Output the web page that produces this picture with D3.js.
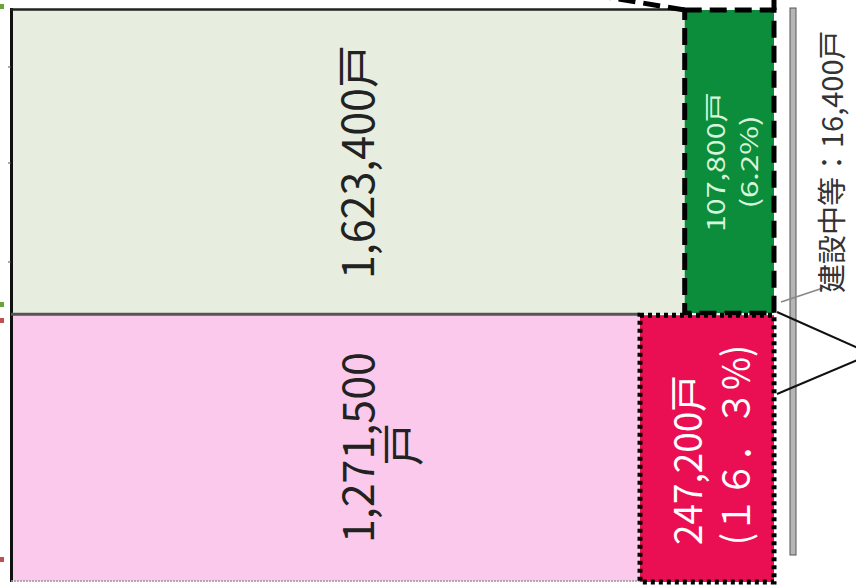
<!DOCTYPE html>
<html><head><meta charset="utf-8">
<script src="https://cdn.jsdelivr.net/npm/d3@7"></script>
<style>html,body{margin:0;padding:0;background:#fff;overflow:hidden}</style>
</head><body>
<script>
// ---- data ----
const categories = ["グループ1", "グループ2"];
const mainValues = [1623400, 1271500];
const subValues = [107800, 247200];
const subShares = [6.2, 16.3];
const underConstruction = 16400;
const underConstructionLabel = "建設中等：";
const mainLabelLines = [["1,623,400戸"], ["1,271,500", "戸"]];
const subShareText = ["(6.2%)", "(１６．３%)"];

const mainFills = ["#e8eedf", "#fbc9ec"];
const subFills = ["#0b8d3c", "#ea0f52"];
const subText = ["#d6f5da", "#ffffff"];

const W = 856, H = 585;
const svg = d3.select("body").append("svg").attr("width", W).attr("height", H)
  .style("font-family", "'Noto Sans CJK JP','Noto Sans',sans-serif");

const totals = mainValues.map((v, i) => v + subValues[i]);
const grand = d3.sum(totals);
const y = d3.scaleLinear().domain([0, grand]).range([10, 581]);
const w = d3.scalePow().exponent(0.42).domain([0, d3.max(subShares)]).range([0, 134]);
const xLeft = 12, xRight = 774;
const fmt = d3.format(",");

let cum = 0;
const rows = categories.map((c, i) => {
  const r = { i, y0: y(cum), y1: y(cum + totals[i]) };
  cum += totals[i];
  r.subX = xRight - w(subShares[i]);
  return r;
});

// main rects
svg.selectAll("rect.main").data(rows).join("rect").attr("class", "main")
  .attr("x", xLeft).attr("y", d => d.y0)
  .attr("width", d => d.subX - xLeft).attr("height", d => d.y1 - d.y0)
  .attr("fill", d => mainFills[d.i]);

// frame lines
svg.append("line").attr("x1", 11.5).attr("x2", 11.5).attr("y1", 8).attr("y2", 582)
  .attr("stroke", "#111").attr("stroke-width", 3);
svg.append("line").attr("x1", 11).attr("x2", rows[0].subX).attr("y1", 9.5).attr("y2", 9.5)
  .attr("stroke", "#222").attr("stroke-width", 2.5);
svg.append("line").attr("x1", 11).attr("x2", rows[1].subX).attr("y1", rows[0].y1).attr("y2", rows[0].y1)
  .attr("stroke", "#555").attr("stroke-width", 3);
svg.append("line").attr("x1", 11).attr("x2", rows[1].subX).attr("y1", 581).attr("y2", 581)
  .attr("stroke", "#999").attr("stroke-width", 1.5).attr("stroke-dasharray", "2,1");

// small ticks on left
[67, 163, 262].forEach(t => svg.append("line").attr("x1", 8).attr("x2", 11).attr("y1", t).attr("y2", t)
  .attr("stroke", "#555").attr("stroke-width", 1));
// legend remnants
[[4, "#6aa33a"], [302, "#6aa33a"], [318, "#c0504d"], [557, "#c0504d"]].forEach(([yy, c]) =>
  svg.append("rect").attr("x", 0).attr("y", yy).attr("width", 4).attr("height", 5).attr("fill", c));

// sub boxes
svg.selectAll("rect.sub").data(rows).join("rect").attr("class", "sub")
  .attr("x", d => d.subX).attr("y", d => d.y0 + (d.i ? 1 : 0))
  .attr("width", d => xRight - d.subX).attr("height", d => d.y1 - d.y0 - (d.i ? 0 : 1))
  .attr("fill", d => subFills[d.i])
  .attr("stroke", "#000").attr("stroke-width", 5)
  .attr("stroke-dasharray", d => d.i ? "4,4" : "17,8");

// callout dashed lines at top
svg.append("line").attr("x1", rows[0].subX).attr("y1", 10).attr("x2", 588).attr("y2", -6)
  .attr("stroke", "#000").attr("stroke-width", 5).attr("stroke-dasharray", "17,8");
svg.append("line").attr("x1", xRight).attr("y1", 10).attr("x2", xRight).attr("y2", -5)
  .attr("stroke", "#000").attr("stroke-width", 5);

// main labels
const labelX = 355;
rows.forEach(d => {
  const lines = mainLabelLines[d.i];
  const cy = (d.y0 + d.y1) / 2;
  lines.forEach((t, k) => {
    svg.append("text")
      .attr("transform", `translate(${labelX + k * 45},${cy + (k ? -3 : 0)}) rotate(-90)`)
      .attr("text-anchor", "middle").attr("dominant-baseline", "central")
      .attr("font-size", 43).attr("fill", "#222").text(t);
  });
});

// green sub labels (centered)
{
  const d = rows[0];
  const cx = (d.subX + xRight) / 2, cy = (d.y0 + d.y1) / 2;
  [[fmt(subValues[0]) + "戸", -15, 140], [subShareText[0], 18, 93]].forEach(([t, dx, len]) => {
    svg.append("text").attr("transform", `translate(${cx + dx},${cy}) rotate(-90)`)
      .attr("text-anchor", "middle").attr("dominant-baseline", "central")
      .attr("font-size", 24).attr("fill", subText[0])
      .attr("textLength", len).attr("lengthAdjust", "spacingAndGlyphs").text(t);
  });
}
// red sub labels (start anchored)
{
  const d = rows[1];
  const cx = (d.subX + xRight) / 2;
  [[fmt(subValues[1]) + "戸", -22, 170], [subShareText[1], 26, 200]].forEach(([t, dx, len]) => {
    svg.append("text").attr("transform", `translate(${cx + dx},${d.y1 - 36}) rotate(-90)`)
      .attr("text-anchor", "start").attr("dominant-baseline", "central")
      .attr("font-size", 38).attr("fill", subText[1])
      .attr("textLength", len).attr("lengthAdjust", "spacingAndGlyphs").text(t);
  });
}

// gray vertical bar
svg.append("rect").attr("x", 790).attr("y", 8).attr("width", 6).attr("height", 547)
  .attr("fill", "#b5b5b5").attr("stroke", "#555").attr("stroke-width", 1);

// leader lines
svg.append("line").attr("x1", 777).attr("y1", 312).attr("x2", 860).attr("y2", 349)
  .attr("stroke", "#111").attr("stroke-width", 2);
svg.append("line").attr("x1", 777).attr("y1", 394).attr("x2", 860).attr("y2", 359)
  .attr("stroke", "#111").attr("stroke-width", 2);
svg.append("line").attr("x1", 781).attr("y1", 302).attr("x2", 823).attr("y2", 288)
  .attr("stroke", "#888").attr("stroke-width", 1.5);

// under construction label
svg.append("text").attr("transform", `translate(830,293) rotate(-90)`)
  .attr("text-anchor", "start").attr("dominant-baseline", "central")
  .attr("font-size", 29).attr("fill", "#333")
  .text(underConstructionLabel + fmt(underConstruction) + "戸");
</script>
</body></html>
